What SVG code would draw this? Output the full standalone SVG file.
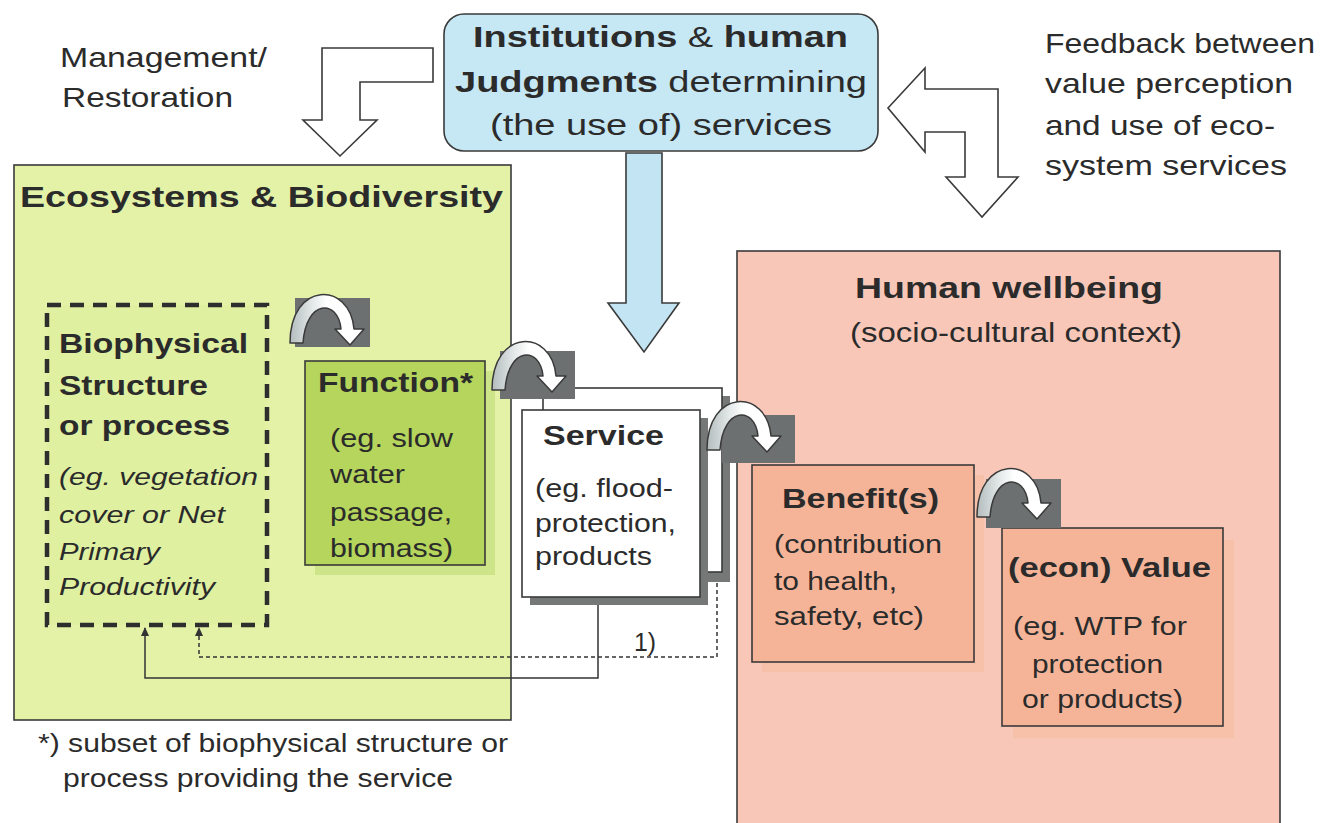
<svg xmlns="http://www.w3.org/2000/svg" width="1336" height="823" viewBox="0 0 1336 823">
<style>
text{font-family:"Liberation Sans",Arial,sans-serif;fill:#2b2b2b}
.b{font-weight:bold}
.i{font-style:italic}
.box{stroke:#3a3a3a;stroke-width:1.6}
.hollow{fill:#fff;stroke:#3a3a3a;stroke-width:1.6;stroke-linejoin:miter}
.gr{fill:#6d7070}
.carrow{fill:url(#cg);stroke:#3a3a3a;stroke-width:1.5;stroke-linejoin:round}
.conn{fill:none;stroke:#333;stroke-width:1.5}
</style>
<defs>
<linearGradient id="cg" x1="0" y1="0" x2="1" y2="0">
<stop offset="0" stop-color="#b4bcbd"/>
<stop offset="0.3" stop-color="#e3e8e8"/>
<stop offset="0.5" stop-color="#ffffff"/>
<stop offset="1" stop-color="#ffffff"/>
</linearGradient>
<path id="ca" d="M 0 0 C 0 -62 60 -62 64 -14 L 74 -14 L 60 2 L 45 -14 L 51 -14 C 48 -44 16 -44 13 0 Z"/>
<marker id="ah" viewBox="0 0 10 10" refX="9" refY="5" markerWidth="9" markerHeight="9" markerUnits="userSpaceOnUse" orient="auto">
<path d="M0 0.5 L10 5 L0 9.5 Z" fill="#333"/>
</marker>
</defs>

<g id="management">
<polygon class="hollow" points="322,48 433,48 433,82 360,82 360,120 377,120 340,156 303,120 322,120"/>
<text x="60" y="67" font-size="28" textLength="207" lengthAdjust="spacingAndGlyphs">Management/</text>
<text x="62" y="107" font-size="28" textLength="171" lengthAdjust="spacingAndGlyphs">Restoration</text>
</g>

<g id="feedback">
<polygon class="hollow" points="888,108 925,68 925,89 998,89 998,177 1018,177 982,217 946,177 965,177 965,132 925,132 925,152"/>
<text x="1045" y="53" font-size="28" textLength="270" lengthAdjust="spacingAndGlyphs">Feedback between</text>
<text x="1045" y="93" font-size="28" textLength="248" lengthAdjust="spacingAndGlyphs">value perception</text>
<text x="1045" y="135" font-size="28" textLength="230" lengthAdjust="spacingAndGlyphs">and use of eco-</text>
<text x="1045" y="175" font-size="28" textLength="242" lengthAdjust="spacingAndGlyphs">system services</text>
</g>

<g id="institutions">
<rect class="box" x="444" y="14" width="434" height="137" rx="20" fill="#c6e7f4"/>
<text x="473" y="47" font-size="30" textLength="375" lengthAdjust="spacingAndGlyphs"><tspan class="b">Institutions</tspan> &amp; <tspan class="b">human</tspan></text>
<text x="455" y="92" font-size="30" textLength="412" lengthAdjust="spacingAndGlyphs"><tspan class="b">Judgments</tspan> determining</text>
<text x="490" y="135" font-size="30" textLength="342" lengthAdjust="spacingAndGlyphs">(the use of) services</text>
<polygon points="626,153 662,153 662,303 679,303 644,352 608,303 626,303" fill="#c3e4f2" stroke="#3a3a3a" stroke-width="1.6"/>
</g>

<g id="ecosystems">
<rect class="box" x="14" y="165" width="497" height="555" fill="#e4f2a8"/>
<text class="b" x="20" y="207" font-size="30" textLength="483" lengthAdjust="spacingAndGlyphs">Ecosystems &amp; Biodiversity</text>
</g>

<g id="wellbeing">
<rect class="box" x="737" y="251" width="543" height="590" fill="#f8c7b7"/>
<text class="b" x="855" y="298" font-size="30" textLength="308" lengthAdjust="spacingAndGlyphs">Human wellbeing</text>
<text x="850" y="342" font-size="28" textLength="332" lengthAdjust="spacingAndGlyphs">(socio-cultural context)</text>
</g>

<g id="biophysical">
<rect x="47" y="305" width="220" height="320" fill="#dcee9c" fill-opacity="0.6" stroke="#2e2e2e" stroke-width="4.5" stroke-dasharray="14 9"/>
<text class="b" x="59" y="353" font-size="27" textLength="189" lengthAdjust="spacingAndGlyphs">Biophysical</text>
<text class="b" x="59" y="395" font-size="27" textLength="149" lengthAdjust="spacingAndGlyphs">Structure</text>
<text class="b" x="59" y="435" font-size="27" textLength="171" lengthAdjust="spacingAndGlyphs">or process</text>
<text class="i" x="59" y="485" font-size="24" textLength="199" lengthAdjust="spacingAndGlyphs">(eg. vegetation</text>
<text class="i" x="59" y="523" font-size="24" textLength="166" lengthAdjust="spacingAndGlyphs">cover or Net</text>
<text class="i" x="59" y="560" font-size="24" textLength="101" lengthAdjust="spacingAndGlyphs">Primary</text>
<text class="i" x="59" y="595" font-size="24" textLength="156" lengthAdjust="spacingAndGlyphs">Productivity</text>
</g>

<g id="function">
<rect x="315" y="371" width="180" height="204" fill="#cde489"/>
<rect class="box" x="305" y="361" width="180" height="204" fill="#b5d55c"/>
<text class="b" x="318" y="392" font-size="28" textLength="155" lengthAdjust="spacingAndGlyphs">Function*</text>
<text x="330" y="447" font-size="25" textLength="123" lengthAdjust="spacingAndGlyphs">(eg. slow</text>
<text x="330" y="483" font-size="25" textLength="75" lengthAdjust="spacingAndGlyphs">water</text>
<text x="330" y="521" font-size="25" textLength="122" lengthAdjust="spacingAndGlyphs">passage,</text>
<text x="330" y="557" font-size="25" textLength="123" lengthAdjust="spacingAndGlyphs">biomass)</text>
</g>

<g id="service">
<rect x="551" y="396" width="179" height="186" fill="#767878"/>
<rect class="box" x="543" y="388" width="179" height="184" fill="#fff"/>
<rect x="530" y="418" width="178" height="187" fill="#767878"/>
<rect class="box" x="522" y="410" width="178" height="187" fill="#fff"/>
<text class="b" x="543" y="445" font-size="28" textLength="121" lengthAdjust="spacingAndGlyphs">Service</text>
<text x="535" y="497" font-size="25" textLength="138" lengthAdjust="spacingAndGlyphs">(eg. flood-</text>
<text x="535" y="532" font-size="25" textLength="141" lengthAdjust="spacingAndGlyphs">protection,</text>
<text x="535" y="565" font-size="25" textLength="117" lengthAdjust="spacingAndGlyphs">products</text>
</g>

<g id="benefit">
<rect x="762" y="475" width="222" height="197" fill="#f7c0a8"/>
<rect class="box" x="752" y="465" width="222" height="197" fill="#f5b498"/>
<text class="b" x="782" y="508" font-size="27" textLength="157" lengthAdjust="spacingAndGlyphs">Benefit(s)</text>
<text x="774" y="553" font-size="25" textLength="168" lengthAdjust="spacingAndGlyphs">(contribution</text>
<text x="774" y="590" font-size="25" textLength="123" lengthAdjust="spacingAndGlyphs">to health,</text>
<text x="774" y="625" font-size="25" textLength="150" lengthAdjust="spacingAndGlyphs">safety, etc)</text>
</g>

<g id="value">
<rect x="1013" y="540" width="221" height="198" fill="#f7c0a8"/>
<rect class="box" x="1002" y="528" width="221" height="198" fill="#f5b498"/>
<text class="b" x="1008" y="577" font-size="27" textLength="203" lengthAdjust="spacingAndGlyphs">(econ) Value</text>
<text x="1013" y="635" font-size="25" textLength="174" lengthAdjust="spacingAndGlyphs">(eg. WTP for</text>
<text x="1032" y="673" font-size="25" textLength="131" lengthAdjust="spacingAndGlyphs">protection</text>
<text x="1022" y="708" font-size="25" textLength="161" lengthAdjust="spacingAndGlyphs">or products)</text>
</g>

<g id="transitions">
<rect class="gr" x="295" y="298" width="75" height="49"/>
<use href="#ca" class="carrow" transform="translate(290,343)"/>
<rect class="gr" x="500" y="351" width="75" height="48"/>
<use href="#ca" class="carrow" transform="translate(492,390)"/>
<rect class="gr" x="722" y="415" width="73" height="48"/>
<use href="#ca" class="carrow" transform="translate(707,450)"/>
<rect class="gr" x="986" y="479" width="75" height="49"/>
<use href="#ca" class="carrow" transform="translate(977,517)"/>
</g>

<g id="connectors">
<path class="conn" d="M 598 605 V 678 H 145 V 628" marker-end="url(#ah)"/>
<path class="conn" d="M 717 583 V 657 H 199 V 628" stroke-dasharray="4 3" stroke-width="1.3" marker-end="url(#ah)"/>
<text x="634" y="651" font-size="25" textLength="22" lengthAdjust="spacingAndGlyphs">1)</text>
</g>

<g id="footnote">
<text x="38" y="752" font-size="26" textLength="470" lengthAdjust="spacingAndGlyphs">*) subset of biophysical structure or</text>
<text x="63" y="787" font-size="26" textLength="390" lengthAdjust="spacingAndGlyphs">process providing the service</text>
</g>
</svg>
